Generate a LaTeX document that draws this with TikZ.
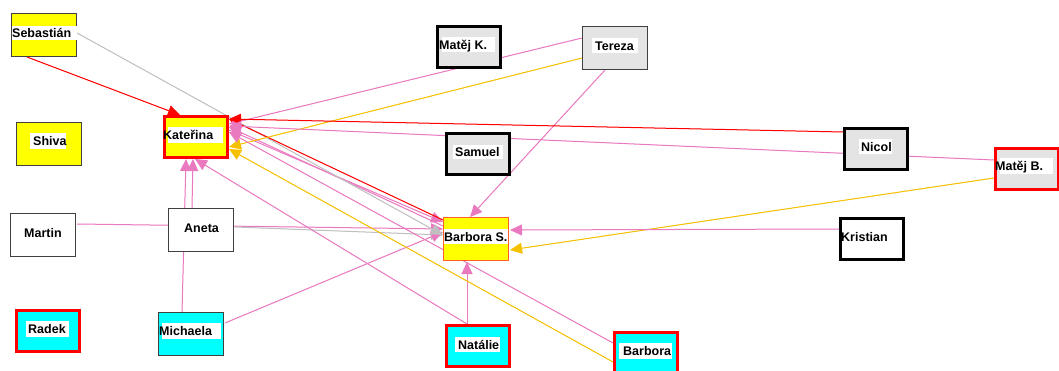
\documentclass[tikz,border=0pt]{standalone}
\usepackage{fontspec}
\setmainfont{Liberation Sans}
\usetikzlibrary{arrows.meta,backgrounds}
\definecolor{pinkE}{RGB}{234,122,192}
\definecolor{orangeE}{RGB}{245,192,0}
\definecolor{grayE}{RGB}{192,192,192}
\definecolor{fillG}{RGB}{228,228,228}
\definecolor{dgray}{RGB}{64,64,64}
\definecolor{yel}{RGB}{255,255,0}
\definecolor{cyn}{RGB}{0,255,255}
\definecolor{bsb}{RGB}{255,96,40}
\begin{document}
\begin{tikzpicture}[x=1pt,y=1pt,
  thinb/.style={rectangle,draw=dgray,line width=1pt,minimum width=65pt,minimum height=43pt,inner sep=0pt,anchor=north west},
  thickb/.style={rectangle,line width=3pt,minimum width=63pt,minimum height=41pt,inner sep=0pt,anchor=north west},
  band/.style={rectangle,fill=white,inner sep=0pt},
  lbl/.style={inner sep=0pt,anchor=base west,font=\bfseries\fontsize{12.5}{14}\selectfont},
  e/.style={line width=1pt,-{Triangle[length=12pt,width=11pt]}},
  ep/.style={e,draw=pinkE,fill=pinkE},
  eo/.style={e,draw=orangeE,fill=orangeE},
  er/.style={e,draw=red,fill=red},
  eg/.style={e,draw=grayE,fill=grayE}]
\useasboundingbox (0,0) rectangle (1059,-371);

% boxes
\node[thinb,fill=yel] (seb) at (11,-13) {};
\node[thinb,fill=yel] (shiva) at (16,-122) {};
\node[thickb,draw=red,fill=yel] (kat) at (163,-115) {};
\node[thickb,draw=black,fill=fillG] (matk) at (436,-25) {};
\node[thinb,fill=fillG] (ter) at (582,-26) {};
\node[thickb,draw=black,fill=fillG] (sam) at (445,-132) {};
\node[thickb,draw=black,fill=fillG] (nic) at (843,-127) {};
\node[thickb,draw=red,fill=fillG] (matb) at (994,-147) {};
\node[thickb,draw=black,fill=white] (kri) at (839,-217) {};
\node[thinb,draw=bsb,fill=yel] (bars) at (443,-217) {};
\node[thinb,fill=white] (mar) at (10,-213) {};
\node[thinb,fill=white] (ane) at (168,-208) {};
\node[thickb,draw=red,fill=cyn] (rad) at (15,-309) {};
\node[thinb,fill=cyn] (mic) at (158,-312) {};
\node[thickb,draw=red,fill=cyn] (nat) at (445,-324) {};
\node[thickb,draw=red,fill=cyn] (bar) at (613,-331) {};

% label bands
\node[band,minimum width=65pt,minimum height=14pt] (seb-b) at (44.5,-33.5) {};
\node[band,minimum width=36pt,minimum height=16pt] (shiva-b) at (48,-141) {};
\node[band,minimum width=55pt,minimum height=16pt] (kat-b) at (195.5,-135) {};
\node[band,minimum width=53pt,minimum height=15pt] (matk-b) at (468.5,-44.5) {};
\node[band,minimum width=46pt,minimum height=15pt] (ter-b) at (615,-45.5) {};
\node[band,minimum width=50pt,minimum height=14pt] (sam-b) at (478,-152) {};
\node[band,minimum width=33pt,minimum height=15pt] (nic-b) at (875.5,-146.5) {};
\node[band,minimum width=53pt,minimum height=16pt] (matb-b) at (1026.5,-166) {};
\node[band,minimum width=64pt,minimum height=15pt] (bars-b) at (476,-236.5) {};
\node[band,minimum width=43pt,minimum height=16pt] (rad-b) at (47.5,-329) {};
\node[band,minimum width=59pt,minimum height=16pt] (mic-b) at (191.5,-331) {};
\node[band,minimum width=45pt,minimum height=15pt] (nat-b) at (477.5,-344.5) {};
\node[band,minimum width=53pt,minimum height=16pt] (bar-b) at (645.5,-351) {};

% label texts
\node[lbl] (seb-t) at (12,-38) {Sebastián};
\node[lbl] (shiva-t) at (33,-145.5) {Shiva};
\node[lbl] (kat-t) at (163,-139.5) {Kateřina};
\node[lbl] (matk-t) at (439,-49.5) {Matěj K.};
\node[lbl] (ter-t) at (595,-50.5) {Tereza};
\node[lbl] (sam-t) at (455,-156.5) {Samuel};
\node[lbl] (nic-t) at (861,-151.5) {Nicol};
\node[lbl] (matb-t) at (995,-170.5) {Matěj B.};
\node[lbl] (kri-t) at (841,-241.5) {Kristian};
\node[lbl] (bars-t) at (444,-241.5) {Barbora S.};
\node[lbl] (mar-t) at (24,-237.5) {Martin};
\node[lbl] (ane-t) at (184,-232.5) {Aneta};
\node[lbl] (rad-t) at (28,-333.5) {Radek};
\node[lbl] (mic-t) at (159,-335.5) {Michaela};
\node[lbl] (nat-t) at (458,-349.5) {Natálie};
\node[lbl] (bar-t) at (623,-355.5) {Barbora};

% connectors
\begin{pgfonlayer}{background}
\fill[white] (0,0) rectangle (1059,-371);
\draw[ep] ([shift={(67,-11)}]mar.north west) -- ([shift={(0,-12)}]bars.north west);
\draw[eg] ([shift={(67,-19)}]ane.north west) -- ([shift={(0,-18)}]bars.north west);
\draw[ep] ([shift={(67,-11)}]mic.north west) -- ([shift={(0,-15)}]bars.north west);
\draw[ep] ([shift={(66,-15)}]kat.north west) -- ([shift={(0,-5)}]bars.north west);
\draw[ep] ([shift={(0,-9)}]bars.north west) -- ([shift={(66,-12)}]kat.north west);
\draw[eg] ([shift={(66,-20)}]seb.north west) -- ([shift={(0,-18)}]bars.north west);
\draw[er] ([shift={(0,-3)}]bars.north west) -- ([shift={(66,-4)}]kat.north west);
\draw[er] ([shift={(16,-44)}]seb.north west) -- ([shift={(17,0)}]kat.north west);
\draw[ep] ([shift={(0,-12)}]ter.north west) -- ([shift={(66,-9)}]kat.north west);
\draw[eo] ([shift={(0,-32)}]ter.north west) -- ([shift={(66,-32)}]kat.north west);
\draw[ep] ([shift={(23,-44)}]ter.north west) -- ([shift={(27,0)}]bars.north west);
\draw[er] ([shift={(0,-5)}]nic.north west) -- ([shift={(66,-4)}]kat.north west);
\draw[ep] ([shift={(0,-13)}]matb.north west) -- ([shift={(66,-11)}]kat.north west);
\draw[eo] ([shift={(0,-31)}]matb.north west) -- ([shift={(67,-33)}]bars.north west);
\draw[ep] ([shift={(0,-12)}]kri.north west) -- ([shift={(67,-13)}]bars.north west);
\draw[ep] ([shift={(22,0)}]nat.north west) -- ([shift={(24,-45)}]bars.north west);
\draw[eo] ([shift={(0,-31)}]bar.north west) -- ([shift={(66,-34)}]kat.north west);
\draw[ep] ([shift={(0,-12)}]bar.north west) -- ([shift={(66,-17)}]kat.north west);
\draw[ep] ([shift={(22,0)}]nat.north west) -- ([shift={(32,-44)}]kat.north west);
\draw[ep] ([shift={(24,0)}]ane.north west) -- ([shift={(30,-44)}]kat.north west);
\draw[ep] ([shift={(24,0)}]mic.north west) -- ([shift={(23,-44)}]kat.north west);
\end{pgfonlayer}
\end{tikzpicture}
\end{document}
